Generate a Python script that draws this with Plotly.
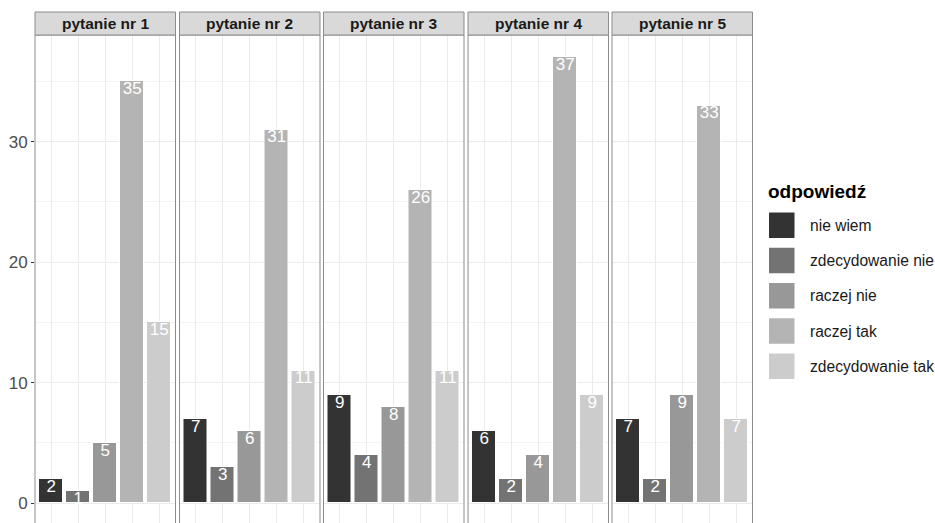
import plotly.graph_objects as go

questions = ["pytanie nr 1", "pytanie nr 2", "pytanie nr 3", "pytanie nr 4", "pytanie nr 5"]
answers = ["nie wiem", "zdecydowanie nie", "raczej nie", "raczej tak", "zdecydowanie tak"]
q1 = [2, 1, 5, 35, 15]
q2 = [7, 3, 6, 31, 11]
q3 = [9, 4, 8, 26, 11]
q4 = [6, 2, 4, 37, 9]
q5 = [7, 2, 9, 33, 7]
values = [q1, q2, q3, q4, q5]
y_ticks = [0, 10, 20, 30]
y_minor = [5, 15, 25, 35]
legend_title = "odpowiedź"

colors = ["#333333", "#737373", "#989898", "#B4B4B4", "#CCCCCC"]
FONT = "Liberation Sans, Arial, sans-serif"

W, H = 935, 523
panel_left = [35, 179.5, 323.5, 468, 612]
panel_w = 140.5
plot_top = 35
strip_top = 12
border = "#8c8c8c"

fig = go.Figure()
layout = dict(
    width=W, height=H,
    margin=dict(l=0, r=0, t=0, b=0, pad=0),
    paper_bgcolor="white", plot_bgcolor="white",
    showlegend=False,
    bargap=0,
)
shapes = []
annotations = []
ytop = (H - plot_top) / H
ystrip = (H - strip_top) / H

for i, (q, vals) in enumerate(zip(questions, values)):
    n = "" if i == 0 else str(i + 1)
    xa, ya = "x" + n, "y" + n
    fig.add_trace(go.Bar(
        x=answers, y=vals, marker=dict(color=colors, line=dict(color="white", width=1)),
        width=0.9, xaxis=xa, yaxis=ya, showlegend=False, hoverinfo="x+y",
    ))
    fig.add_trace(go.Scatter(
        x=answers, y=vals, mode="text", text=[str(v) for v in vals],
        textposition="bottom center",
        textfont=dict(color="white", size=17, family=FONT),
        xaxis=xa, yaxis=ya, showlegend=False, hoverinfo="skip",
    ))
    l = panel_left[i]
    layout["xaxis" + n] = dict(
        domain=[l / W, (l + panel_w) / W], range=[-0.6, 4.6],
        type="category", categoryorder="array", categoryarray=answers,
        showticklabels=False, showgrid=True, gridcolor="#EBEBEB", gridwidth=1,
        zeroline=False, showline=False, ticks="", anchor=ya,
    )
    layout["yaxis" + n] = dict(
        domain=[0, ytop], range=[-1.64, 38.85], anchor=xa,
        tickvals=y_ticks, showgrid=True, gridcolor="#EBEBEB", gridwidth=1,
        minor=dict(tickvals=y_minor, showgrid=True, gridcolor="#F3F3F3", gridwidth=1),
        zeroline=False, showline=False,
        showticklabels=(i == 0),
        ticks="outside" if i == 0 else "", ticklen=3, tickcolor="#333333", tickwidth=1,
        tickfont=dict(size=17, color="#4D4D4D", family=FONT),
    )
    shapes.append(dict(type="rect", xref="paper", yref="paper",
                       x0=l / W, x1=(l + panel_w) / W, y0=-0.02, y1=ytop,
                       line=dict(color=border, width=1), fillcolor="rgba(0,0,0,0)", layer="above"))
    shapes.append(dict(type="rect", xref="paper", yref="paper",
                       x0=l / W, x1=(l + panel_w) / W, y0=ytop, y1=ystrip,
                       line=dict(color=border, width=1), fillcolor="#D9D9D9", layer="above"))
    annotations.append(dict(xref="paper", yref="paper", x=(l + panel_w / 2) / W,
                            y=(ytop + ystrip) / 2, text=q, showarrow=False,
                            xanchor="center", yanchor="middle",
                            font=dict(size=15.5, color="#1A1A1A", family=FONT, weight="bold")))

# legend (drawn manually to get large keys)
annotations.append(dict(xref="paper", yref="paper", x=766 / W, y=1 - 191 / H,
                        text=legend_title, showarrow=False, xanchor="left", yanchor="middle",
                        font=dict(size=19, color="black", family=FONT, weight="bold")))
for k, (a, c) in enumerate(zip(answers, colors)):
    top = 212.5 + k * 35.25
    shapes.append(dict(type="rect", xref="paper", yref="paper",
                       x0=769 / W, x1=794.5 / W, y0=1 - (top + 25.5) / H, y1=1 - top / H,
                       line=dict(width=0), fillcolor=c))
    annotations.append(dict(xref="paper", yref="paper", x=808 / W, y=1 - (top + 12.75) / H,
                            text=a, showarrow=False, xanchor="left", yanchor="middle",
                            font=dict(size=15.6, color="#1A1A1A", family=FONT)))

layout["shapes"] = shapes
layout["annotations"] = annotations
fig.update_layout(**layout)
fig.write_html("out.html", config={"displayModeBar": False},
               post_script="document.body.style.margin='0';document.body.style.overflow='hidden';")
